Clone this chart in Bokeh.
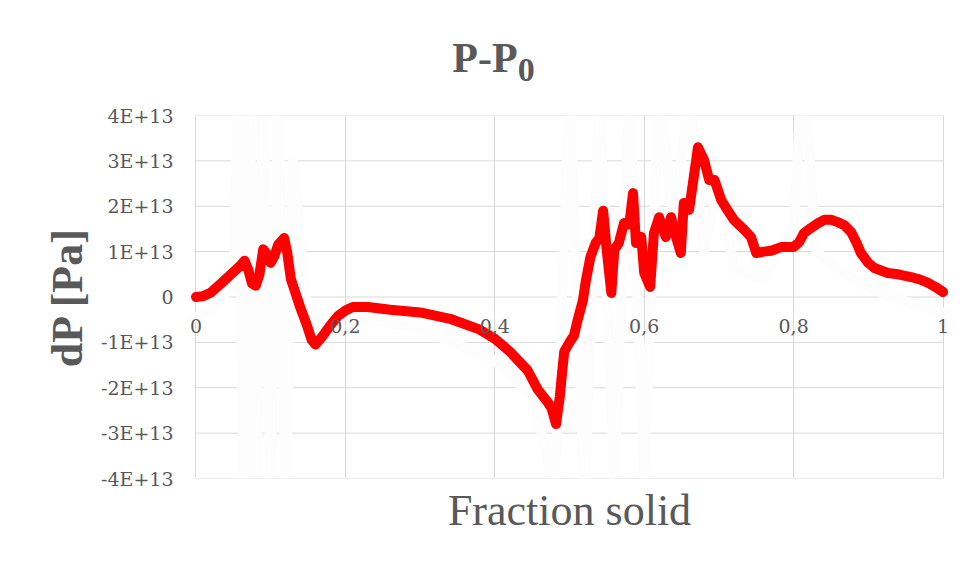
from bokeh.plotting import figure
from bokeh.models import FixedTicker, CustomJSTickFormatter, Label, Title, Range1d, Div
from bokeh.layouts import column
from bokeh.embed import file_html
from bokeh.resources import INLINE

# ---------------- data ----------------
E13 = 1e13
frac_solid = [0.0, 0.01, 0.02, 0.035, 0.05, 0.06, 0.065, 0.07, 0.075, 0.08, 0.085, 0.09,
              0.095, 0.1, 0.105, 0.11, 0.118, 0.122, 0.127, 0.133, 0.14, 0.148, 0.155, 0.16,
              0.17, 0.18, 0.19, 0.2, 0.21, 0.23, 0.26, 0.3, 0.34, 0.38, 0.4, 0.42, 0.444,
              0.458, 0.47, 0.476, 0.482, 0.487, 0.49, 0.493, 0.5, 0.506, 0.511, 0.518, 0.522,
              0.528, 0.535, 0.54, 0.545, 0.55, 0.556, 0.56, 0.566, 0.573, 0.58, 0.585,
              0.589, 0.596, 0.6, 0.608, 0.613, 0.62, 0.625, 0.629, 0.636, 0.643, 0.649, 0.653,
              0.66, 0.666, 0.672, 0.68, 0.687, 0.694, 0.703, 0.712, 0.72, 0.734, 0.743, 0.75,
              0.76, 0.77, 0.783, 0.8, 0.807, 0.814, 0.823, 0.832, 0.841, 0.85, 0.859, 0.868,
              0.877, 0.884, 0.89, 0.9, 0.908, 0.926, 0.94, 0.957, 0.97, 0.98, 0.99, 1.0]
dp_e13 = [0.0, 0.02, 0.1, 0.32, 0.55, 0.7, 0.8, 0.6, 0.3, 0.25, 0.5, 1.05,
          0.95, 0.75, 0.9, 1.15, 1.3, 1.0, 0.4, 0.1, -0.25, -0.6, -0.95, -1.05,
          -0.85, -0.62, -0.42, -0.3, -0.22, -0.22, -0.28, -0.34, -0.48, -0.72, -0.92, -1.2, -1.62,
          -2.05, -2.3, -2.45, -2.8, -2.2, -1.68, -1.2, -1.0, -0.85, -0.5, -0.07, 0.37,
          0.88, 1.19, 1.3, 1.9, 1.0, 0.09, 1.04, 1.19, 1.63, 1.6, 2.29,
          1.19, 1.32, 0.53, 0.22, 1.41, 1.76, 1.5, 1.32, 1.76, 1.3, 0.97, 2.07,
          1.92, 2.6, 3.3, 3.02, 2.58, 2.58, 2.14, 1.9, 1.7, 1.48, 1.32, 0.97,
          1.0, 1.02, 1.1, 1.1, 1.2, 1.41, 1.52, 1.62, 1.7, 1.7, 1.65, 1.58,
          1.43, 1.2, 0.97, 0.75, 0.64, 0.53, 0.5, 0.44, 0.38, 0.31, 0.22, 0.11]

# faint near-white companion series
ghost_x = [-0.01, 0.02, 0.05, 0.056, 0.064, 0.072, 0.08, 0.09, 0.1, 0.11, 0.12, 0.13,
           0.15, 0.2, 0.3, 0.4, 0.45, 0.47, 0.48, 0.5, 0.52, 0.54, 0.56, 0.58, 0.6, 0.62,
           0.64, 0.66, 0.68, 0.7, 0.72, 0.76, 0.8, 0.81, 0.82, 0.83, 0.86, 0.9, 0.95, 1.01]
ghost_e13 = [-0.5, -0.3, 0.3, 4.6, -4.6, 4.6, -4.6, 4.6, -4.6, 4.6, -4.6, 3.0,
             -0.6, -0.4, -0.7, -1.4, -2.2, -3.5, -4.6, 4.6, -4.6, 4.6, -4.2, 4.6, -4.0, 4.6,
             1.5, 4.6, 1.0, 2.5, 0.6, 0.4, 1.5, 4.6, 3.5, 1.0, 0.6, 0.2, -0.1, -0.4]

x_ticks = [0, 0.2, 0.4, 0.6, 0.8, 1]
x_tick_labels = ["0", "0,2", "0,4", "0,6", "0,8", "1"]
y_ticks_e13 = [-4, -3, -2, -1, 0, 1, 2, 3, 4]

dp = [v * E13 for v in dp_e13]
ghost_y = [v * E13 for v in ghost_e13]
y_ticks = [v * E13 for v in y_ticks_e13]

# ---------------- figure ----------------
TXT = "#595959"
GRID = "#d9d9d9"
PAD = 0.014   # small margin so the end tick labels are not cut off

p = figure(width=957, height=453, output_backend="svg", toolbar_location=None,
           x_range=Range1d(-PAD, 1 + PAD), y_range=Range1d(-4 * E13, 4 * E13),
           min_border_left=185, min_border_right=4, min_border_top=15, min_border_bottom=75)
p.outline_line_color = None
p.background_fill_color = "white"
p.border_fill_color = "white"

# horizontal gridlines spanning x = 0 .. 1
p.segment(x0=[x_ticks[0]] * len(y_ticks), x1=[x_ticks[-1]] * len(y_ticks),
          y0=y_ticks, y1=y_ticks, line_color=GRID, line_width=1)

p.line(ghost_x, ghost_y, line_color="#fdfdfd", line_width=10, line_join="round")
p.line(frac_solid, dp, line_color="#ff0000", line_width=10, line_join="round", line_cap="round")

xa = p.xaxis[0]
xa.ticker = FixedTicker(ticks=x_ticks)
xa.visible = False
p.xgrid.grid_line_color = GRID
p.ygrid.grid_line_color = None

ya = p.yaxis[0]
ya.ticker = FixedTicker(ticks=y_ticks)
ya.formatter = CustomJSTickFormatter(code="""
    if (tick == 0) return "0";
    return Math.round(tick / 1e13) + "E+13";
""")
ya.axis_line_color = None
ya.major_tick_line_color = None
ya.minor_tick_line_color = None
ya.major_label_standoff = 6
ya.major_label_text_font = "DejaVu Serif"
ya.major_label_text_font_size = "19px"
ya.major_label_text_color = TXT
ya.axis_label = "dP [Pa]"
ya.axis_label_text_font = "Liberation Serif"
ya.axis_label_text_font_style = "bold"
ya.axis_label_text_font_size = "44px"
ya.axis_label_text_color = TXT
ya.axis_label_standoff = 6

# x tick labels placed where the axis crosses (y = 0)
for xv, lab in zip(x_ticks, x_tick_labels):
    p.add_layout(Label(x=xv, y=0, text=lab, y_offset=-22, text_font="DejaVu Serif",
                       text_font_size="19px", text_color=TXT, text_align="center",
                       text_baseline="top"))

xt = Title(text="Fraction solid", align="center", text_font="Liberation Serif",
           text_font_size="44px", text_font_style="normal", text_color=TXT)
p.add_layout(xt, "below")

title = Div(text='P-P<sub style="font-size:34px;vertical-align:-9px;line-height:0">0</sub>',
            width=957, height=90,
            styles={"font-family": "Liberation Serif", "font-weight": "bold",
                    "font-size": "42px", "color": TXT, "text-align": "center",
                    "padding-left": "20px", "padding-top": "32px", "box-sizing": "border-box",
                    "line-height": "1"})

layout = column(title, p, spacing=0)
open("out.html", "w").write(file_html(layout, INLINE))
